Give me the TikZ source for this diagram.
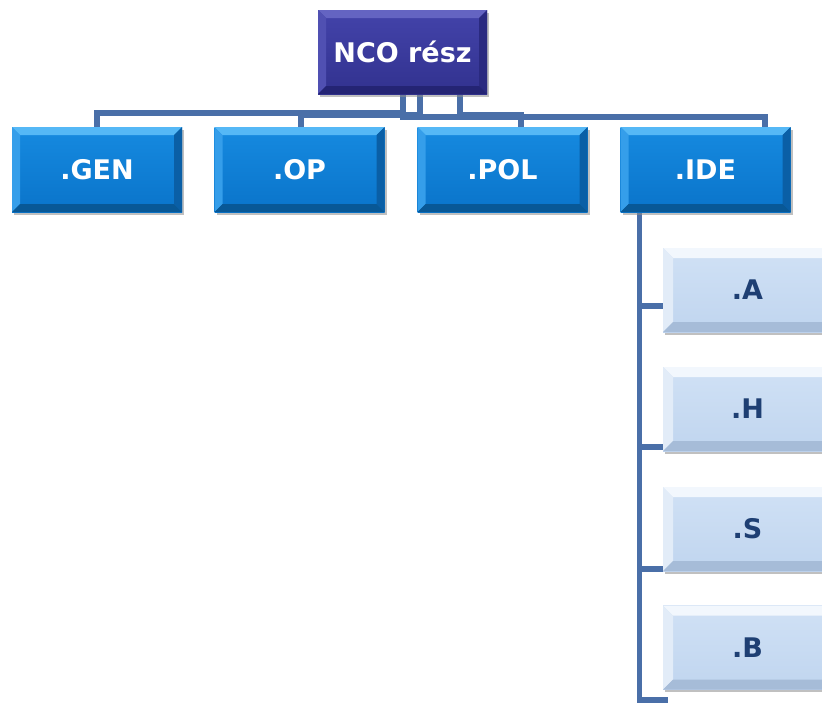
\documentclass[tikz,border=0pt]{standalone}
\usepackage{fontspec}
\setmainfont{DejaVu Sans}
\usetikzlibrary{shadows,backgrounds}
\definecolor{ln}{HTML}{4A6FA8}
\definecolor{ncoT}{HTML}{4343AA}\definecolor{ncoB}{HTML}{32328F}
\definecolor{ncoL}{HTML}{6464C2}\definecolor{ncoS}{HTML}{5050B2}\definecolor{ncoR}{HTML}{2A2A80}\definecolor{ncoD}{HTML}{242474}
\definecolor{bluT}{HTML}{168AE0}\definecolor{bluB}{HTML}{0A74CA}
\definecolor{bluL}{HTML}{55B8F6}\definecolor{bluS}{HTML}{359EEA}\definecolor{bluR}{HTML}{0A5FA6}\definecolor{bluD}{HTML}{085896}
\definecolor{ligT}{HTML}{D0E1F5}\definecolor{ligB}{HTML}{C0D5EF}
\definecolor{ligL}{HTML}{F2F7FD}\definecolor{ligS}{HTML}{E2ECF8}\definecolor{ligR}{HTML}{9DB4D0}\definecolor{ligD}{HTML}{A6BCD8}
\definecolor{navy}{HTML}{1E3F73}
\newcommand\mybevel[5]{%
 \fill[#1] (path picture bounding box.north west) -- (path picture bounding box.north east) -- ([xshift=-#5,yshift=-#5]path picture bounding box.north east) -- ([xshift=#5,yshift=-#5]path picture bounding box.north west) -- cycle;
 \fill[#2] (path picture bounding box.north west) -- ([xshift=#5,yshift=-#5]path picture bounding box.north west) -- ([xshift=#5,yshift=#5]path picture bounding box.south west) -- (path picture bounding box.south west) -- cycle;
 \fill[#3] (path picture bounding box.north east) -- ([xshift=-#5,yshift=-#5]path picture bounding box.north east) -- ([xshift=-#5,yshift=#5]path picture bounding box.south east) -- (path picture bounding box.south east) -- cycle;
 \fill[#4] (path picture bounding box.south west) -- ([xshift=#5,yshift=#5]path picture bounding box.south west) -- ([xshift=-#5,yshift=#5]path picture bounding box.south east) -- (path picture bounding box.south east) -- cycle;
}
\tikzset{
 box/.style={rectangle, inner sep=0pt, font=\bfseries\fontsize{27}{31}\selectfont,
   drop shadow={shadow xshift=2pt, shadow yshift=-2.5pt, fill=black!45, opacity=.55}},
 ncobox/.style={box, minimum width=169pt, minimum height=84pt, text=white,
   top color=ncoT, bottom color=ncoB, path picture={\mybevel{ncoL}{ncoS}{ncoR}{ncoD}{8pt}}},
 bluebox/.style={box, minimum width=170pt, minimum height=85pt, text=white,
   top color=bluT, bottom color=bluB, path picture={\mybevel{bluL}{bluS}{bluR}{bluD}{8pt}}},
 lightbox/.style={box, minimum width=169pt, minimum height=84pt, text=navy,
   top color=ligT, bottom color=ligB, path picture={\mybevel{ligL}{ligS}{ligR}{ligD}{10pt}}},
 conn/.style={draw=ln, line width=5.5pt},
}
\begin{document}
\begin{tikzpicture}[x=1pt,y=-1pt]
\useasboundingbox (0,0) rectangle (822,702);
\node[ncobox] (nco) at (402.5,52) {NCO rész};
\node[bluebox] (gen) at (97,169.5) {.GEN};
\node[bluebox] (op) at (299.5,169.5) {.OP};
\node[bluebox] (pol) at (502.5,169.5) {.POL};
\node[bluebox] (ide) at (705.5,169.5) {.IDE};
\node[lightbox] (a) at (747.5,290) {.A};
\node[lightbox] (h) at (747.5,409) {.H};
\node[lightbox] (s) at (747.5,529) {.S};
\node[lightbox] (b) at (747.5,647.5) {.B};
\coordinate (bstub) at (668,700);
\begin{scope}[on background layer]
\draw[conn] ([xshift=0.5pt]nco.south) -- ++(0,19) -| (gen.north);
\draw[conn] ([xshift=17.5pt]nco.south) -- ++(0,21) -| ([xshift=1.5pt]op.north);
\draw[conn] ([xshift=57.5pt]nco.south) -- ++(0,21) -| ([xshift=18.5pt]pol.north);
\draw[conn] ([xshift=0.5pt]nco.south) -- ++(0,23) -| ([xshift=59.5pt]ide.north);
\draw[conn] ([xshift=19pt]ide.south west) |- ([yshift=-16pt]a.west);
\draw[conn] ([xshift=19pt]ide.south west) |- ([yshift=-38pt]h.west);
\draw[conn] ([xshift=19pt]ide.south west) |- ([yshift=-40pt]s.west);
\draw[conn] ([xshift=19pt]ide.south west) |- (bstub);
\end{scope}
\end{tikzpicture}
\end{document}
